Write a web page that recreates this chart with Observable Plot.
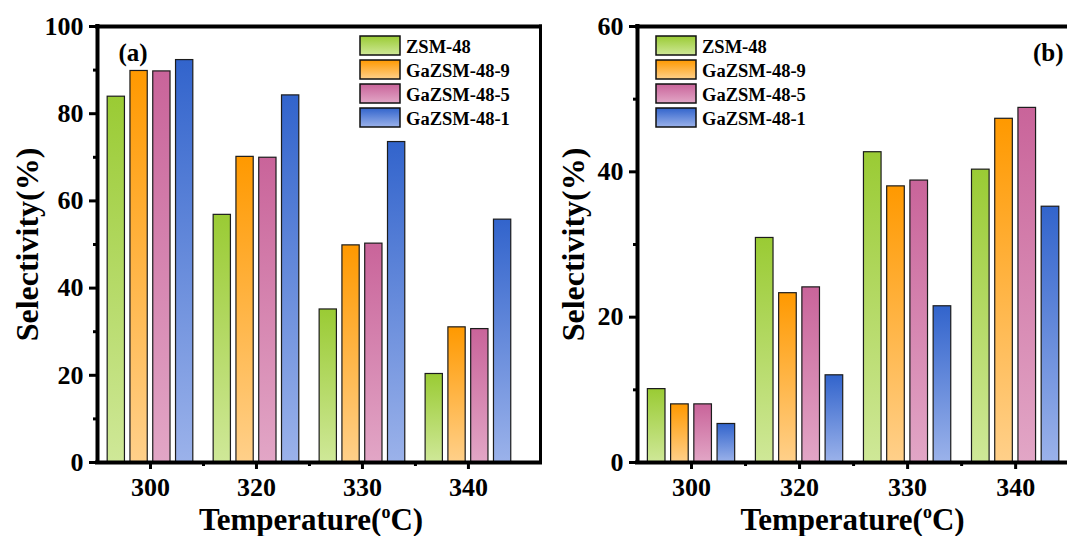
<!DOCTYPE html>
<html><head><meta charset="utf-8">
<script src="https://cdn.jsdelivr.net/npm/d3@7"></script>
<script src="https://cdn.jsdelivr.net/npm/@observablehq/plot@0.6"></script>
<style>
body{margin:0;background:#fff;}
#wrap{position:relative;width:1067px;height:536px;overflow:hidden;display:flex;background:#fff;}
#wrap svg{flex:none;}
</style></head><body><div id="wrap"></div>
<script>
// ---- data ----
const temperatures = ["300", "320", "330", "340"];
const seriesNames = ["ZSM-48", "GaZSM-48-9", "GaZSM-48-5", "GaZSM-48-1"];
// panel (a)
const a_ZSM48     = [83.9, 56.8, 35.1, 20.3];
const a_GaZSM48_9 = [89.8, 70.1, 49.8, 31.0];
const a_GaZSM48_5 = [89.7, 69.9, 50.2, 30.6];
const a_GaZSM48_1 = [92.3, 84.2, 73.5, 55.7];
// panel (b)
const b_ZSM48     = [10.1, 30.9, 42.7, 40.3];
const b_GaZSM48_9 = [8.0, 23.3, 38.0, 47.3];
const b_GaZSM48_5 = [8.0, 24.1, 38.8, 48.8];
const b_GaZSM48_1 = [5.3, 12.0, 21.5, 35.2];
const yTicksA = [0, 20, 40, 60, 80, 100];
const yTicksB = [0, 20, 40, 60];
// colours
const topColors = ["#9acb34", "#ff9900", "#c9649a", "#3264cc"];
const bottomColors = ["#cfe898", "#ffd08a", "#e2a6c6", "#9bb2ea"];

const FONT = '"Liberation Serif", "Times New Roman", serif';

function rowsOf(seriesArrays) {
  const rows = [];
  seriesArrays.forEach((vals, s) => vals.forEach((v, i) => rows.push({t: i + 1, s, v})));
  return rows;
}

function panel(cfg) {
  const rows = rowsOf(cfg.series);
  const step = 0.215, w = 0.163;
  const yMax = cfg.yTicks[cfg.yTicks.length - 1];
  const minor = cfg.yTicks.slice(1).map(v => v - (cfg.yTicks[1] - cfg.yTicks[0]) / 2);
  const marks = [];
  seriesNames.forEach((name, s) => {
    marks.push(Plot.rectY(rows.filter(r => r.s === s), {
      x1: d => d.t + (d.s - 1.5) * step - w / 2,
      x2: d => d.t + (d.s - 1.5) * step + w / 2,
      y1: 0, y2: "v",
      fill: `url(#grad-${cfg.tag}-${s})`,
      stroke: "#1c1c1c", strokeWidth: 1.2
    }));
  });
  marks.push(
    Plot.axisY({ticks: cfg.yTicks, tickSize: 8, tickPadding: 6, strokeWidth: 3, fontSize: 26, fontWeight: "bold", label: null}),
    Plot.axisY({ticks: minor, tickSize: 4, tickFormat: () => "", strokeWidth: 3, label: null}),
    Plot.axisX({ticks: [1, 2, 3, 4], tickFormat: d => temperatures[d - 1], tickSize: 7, tickPadding: 8, strokeWidth: 3, fontSize: 26, fontWeight: "bold", label: null}),
    Plot.axisX({ticks: [1.5, 2.5, 3.5], tickSize: 4, tickFormat: () => "", strokeWidth: 3, label: null}),
    Plot.ruleX([cfg.xDomain[0]], {strokeWidth: 4, strokeLinecap: "square"}),
    Plot.ruleY([0], {strokeWidth: 4, strokeLinecap: "square"}),
    Plot.ruleY([yMax], {strokeWidth: 4, strokeLinecap: "square"}),
    Plot.text(["Selectivity(%)"], {frameAnchor: "left", textAnchor: "middle", lineAnchor: "middle", rotate: -90, dx: cfg.yLabelDx, text: d => d, fontSize: 32, fontWeight: "bold"}),
    Plot.text(["Temperature(oC)"], {frameAnchor: "bottom", textAnchor: "middle", lineAnchor: "bottom", dx: cfg.xLabelDx, dy: 67, text: d => d, fontSize: 31, fontWeight: "bold"}),
    Plot.text([cfg.label], {frameAnchor: cfg.labelAnchor, textAnchor: cfg.labelAnchor === "top-left" ? "start" : "end", lineAnchor: "top", dx: cfg.labelDx, dy: 17, text: d => d, fontSize: 25, fontWeight: "bold"})
  );
  if (cfg.rightFrame) marks.push(Plot.ruleX([cfg.xDomain[1]], {strokeWidth: 3, strokeLinecap: "square"}));

  const svg = Plot.plot({
    width: cfg.width, height: 536,
    marginLeft: cfg.marginLeft, marginRight: cfg.marginRight, marginTop: 26, marginBottom: 74,
    x: {type: "linear", domain: cfg.xDomain},
    y: {domain: [0, yMax]},
    style: {fontFamily: FONT, fontWeight: "bold", color: "#000", background: "transparent", overflow: "visible"},
    marks
  });
  const root = d3.select(svg);
  const defs = root.insert("defs", ":first-child");
  seriesNames.forEach((n, s) => {
    const g = defs.append("linearGradient").attr("id", `grad-${cfg.tag}-${s}`)
      .attr("x1", 0).attr("y1", 0).attr("x2", 0).attr("y2", 1);
    g.append("stop").attr("offset", "0%").attr("stop-color", topColors[s]);
    g.append("stop").attr("offset", "100%").attr("stop-color", bottomColors[s]);
  });
  // superscript o in the x title
  root.selectAll("text").filter(function() { return this.textContent === "Temperature(oC)"; })
    .each(function() {
      const t = d3.select(this);
      t.text(null);
      t.append("tspan").text("Temperature(");
      t.append("tspan").attr("font-size", 18).attr("dy", -12).text("o");
      t.append("tspan").attr("dy", 12).text("C)");
    });
  // legend
  const lg = root.append("g").attr("font-family", FONT).attr("font-weight", "bold")
    .attr("font-size", 18.5).attr("text-anchor", "start");
  seriesNames.forEach((n, s) => {
    const y = 36 + s * 24;
    lg.append("rect").attr("x", cfg.legendX).attr("y", y).attr("width", 40).attr("height", 19)
      .attr("fill", `url(#grad-${cfg.tag}-${s})`).attr("stroke", "#111").attr("stroke-width", 1.5);
    lg.append("text").attr("x", cfg.legendX + 46).attr("y", y + 17).text(n);
  });
  return svg;
}

const wrap = document.getElementById("wrap");
wrap.appendChild(panel({
  tag: "a", series: [a_ZSM48, a_GaZSM48_9, a_GaZSM48_5, a_GaZSM48_1], yTicks: yTicksA,
  width: 560, marginLeft: 97, marginRight: 20, xDomain: [0.5, 4.68], rightFrame: true,
  yLabelDx: -70, xLabelDx: -8, label: "(a)", labelAnchor: "top-left", labelDx: 21, legendX: 360
}));
wrap.appendChild(panel({
  tag: "b", series: [b_ZSM48, b_GaZSM48_9, b_GaZSM48_5, b_GaZSM48_1], yTicks: yTicksB,
  width: 507, marginLeft: 77, marginRight: 0, xDomain: [0.5, 4.48], rightFrame: false,
  yLabelDx: -64, xLabelDx: 0, label: "(b)", labelAnchor: "top-right", labelDx: -4, legendX: 96
}));
</script></body></html>
